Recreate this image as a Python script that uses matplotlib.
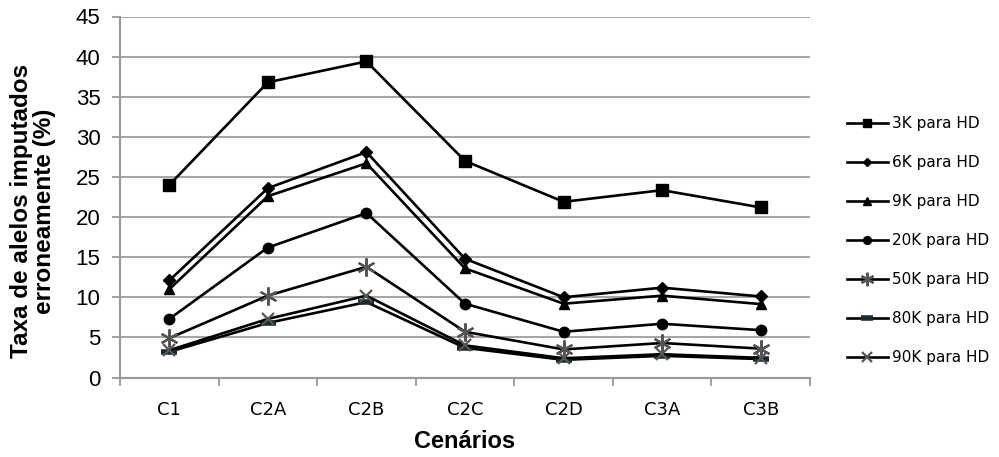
import matplotlib
matplotlib.use("Agg")
import matplotlib.pyplot as plt

categories = ["C1", "C2A", "C2B", "C2C", "C2D", "C3A", "C3B"]
s3k = [24.0, 36.8, 39.4, 27.0, 21.9, 23.35, 21.2]
s6k = [12.1, 23.6, 28.1, 14.8, 10.0, 11.2, 10.1]
s9k = [11.0, 22.6, 26.7, 13.6, 9.2, 10.2, 9.15]
s20k = [7.3, 16.2, 20.5, 9.2, 5.7, 6.7, 5.9]
s50k = [4.9, 10.2, 13.8, 5.7, 3.5, 4.3, 3.6]
s80k = [3.2, 6.8, 9.4, 3.7, 2.2, 2.7, 2.3]
s90k = [3.4, 7.3, 10.2, 4.0, 2.4, 2.9, 2.45]
labels = ["3K para HD", "6K para HD", "9K para HD", "20K para HD",
          "50K para HD", "80K para HD", "90K para HD"]
y_ticks = [0, 5, 10, 15, 20, 25, 30, 35, 40, 45]

series = [s3k, s6k, s9k, s20k, s50k, s80k, s90k]
styles = [
    dict(marker="s", markersize=8.5, color="black", mfc="black", mec="black"),
    dict(marker="D", markersize=6, color="black", mfc="black", mec="black"),
    dict(marker="^", markersize=7.5, color="black", mfc="black", mec="black"),
    dict(marker="o", markersize=7.5, color="black", mfc="black", mec="black"),
    dict(marker=(6, 2, 0), markersize=13, color="black", mec="#555555", mew=1.6),
    dict(marker="_", markersize=12, color="black", mec="#1a2a30", mew=4),
    dict(marker="x", markersize=9, color="black", mec="#555555", mew=1.6),
]

W, H = 999, 457
fig = plt.figure(figsize=(W / 100, H / 100), dpi=100)
ax = fig.add_axes([120 / W, 1 - 377.5 / H, 690 / W, 361 / H])

x = list(range(len(categories)))
for vals, lab, st in zip(series, labels, styles):
    ax.plot(x, vals, linewidth=1.9, label=lab, **st)

ax.set_xlim(-0.5, len(categories) - 0.5)
ax.set_ylim(0, 45)
ax.set_yticks(y_ticks)
ax.set_yticklabels([str(v) for v in y_ticks], fontsize=16, family="Liberation Sans")
ax.set_xticks(x)
ax.set_xticklabels(categories, fontsize=13, family="DejaVu Sans")
ax.set_xticks([i - 0.5 for i in range(len(categories) + 1)], minor=True)
ax.tick_params(axis="x", which="major", length=0, pad=17)
ax.tick_params(axis="x", which="minor", length=6, width=1.3, color="#999999")
ax.tick_params(axis="y", length=6, width=1.3, color="#999999", pad=8)

ax.grid(axis="y", color="#a6a6a6", linewidth=1.5)
ax.set_axisbelow(True)
for side in ["top", "right"]:
    ax.spines[side].set_visible(False)
for side in ["left", "bottom"]:
    ax.spines[side].set_color("#999999")
    ax.spines[side].set_linewidth(1.5)

fig.text(465 / W, 1 - 448 / H, "Cenários", fontsize=17, fontweight="bold",
         family="Liberation Sans", ha="center", va="baseline")
fig.text(33 / W, 1 - 211 / H, "Taxa de alelos imputados\nerroneamente (%)",
         fontsize=17.5, fontweight="bold", family="Liberation Sans",
         rotation=90, ha="center", va="center", linespacing=0.95,
         multialignment="center")

leg = ax.legend(loc="upper left", bbox_to_anchor=(847 / W, 1 - 116 / H),
                bbox_transform=fig.transFigure, frameon=False,
                prop={"family": "DejaVu Sans", "size": 11},
                handlelength=2.67, handletextpad=0.25, labelspacing=1.57,
                markerscale=0.75, borderaxespad=0, borderpad=0)

fig.savefig("out.png", dpi=100)
